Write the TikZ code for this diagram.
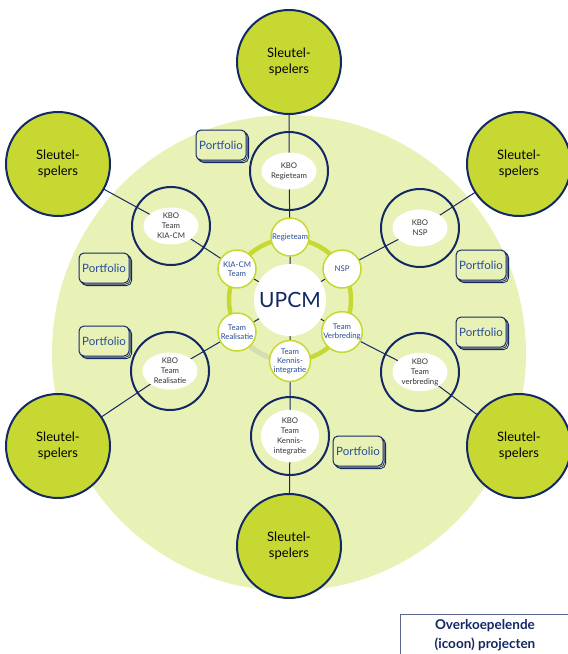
\documentclass[tikz,border=0pt]{standalone}
\usepackage{fontspec}
\setmainfont{Lato}
\usetikzlibrary{shapes.geometric,shadows}
\definecolor{navy}{RGB}{20,40,100}
\definecolor{lime}{RGB}{200,216,50}
\definecolor{bgg}{RGB}{233,242,182}
\definecolor{tblue}{RGB}{40,75,150}
\definecolor{pale}{RGB}{210,222,180}
\pgfdeclarelayer{back}
\pgfdeclarelayer{mid}
\pgfsetlayers{back,mid,main}
\tikzset{
  player/.style={circle, draw=navy, line width=2pt, fill=lime, minimum size=104pt, inner sep=0pt, align=center, font=\fontsize{13}{16}\selectfont},
  kbo/.style={circle, draw=navy, line width=2pt, minimum size=78pt, inner sep=0pt},
  kbotext/.style={ellipse, fill=white, minimum width=55pt, minimum height=37pt, inner sep=0pt, align=center, text=black!80, font=\fontsize{7.8}{10}\selectfont},
  team/.style={circle, draw=lime, line width=1.5pt, fill=white, minimum size=38pt, inner sep=0pt, align=center, text=tblue, font=\fontsize{7.8}{9}\selectfont},
  portf/.style={rectangle, rounded corners=5pt, draw=navy, line width=1pt, fill=bgg, minimum width=50pt, minimum height=30pt, inner sep=0pt, text=tblue, font=\fontsize{11.5}{13}\selectfont,
    double copy shadow={shadow xshift=1.3pt, shadow yshift=-1.3pt, draw=navy, fill=bgg, line width=0.8pt}},
  conn/.style={draw=navy, line width=1pt},
}
\begin{document}
\begin{tikzpicture}[x=1pt,y=-1pt]
\useasboundingbox (0,0) rectangle (568,654);
\begin{pgfonlayer}{back}
\fill[bgg] (289,353) ellipse [x radius=237, y radius=238];
\end{pgfonlayer}

% Sleutelspelers
\node[player] (P1) at (289,62) {Sleutel-\\spelers};
\node[player] (P2) at (58,164) {Sleutel-\\spelers};
\node[player] (P3) at (519,164) {Sleutel-\\spelers};
\node[player] (P4) at (58,446) {Sleutel-\\spelers};
\node[player] (P5) at (519,446) {Sleutel-\\spelers};
\node[player] (P6) at (289,546) {Sleutel-\\spelers};

% KBO circles
\node[kbo] (K1) at (289,171) {};
\node[kbotext] (K1t) at (289,171) {KBO\\Regieteam};
\node[kbo] (K2) at (171,226) {};
\node[kbotext] (K2t) at (171,226) {KBO\\Team\\KIA-CM};
\node[kbo] (K3) at (420,228) {};
\node[kbotext] (K3t) at (420,228) {KBO\\NSP};
\node[kbo] (K4) at (170,371) {};
\node[kbotext] (K4t) at (170,371) {KBO\\Team\\Realisatie};
\node[kbo] (K5) at (420,372) {};
\node[kbotext] (K5t) at (420,372) {KBO\\Team\\verbreding};
\node[kbo] (K6) at (290,436) {};
\node[kbotext, minimum width=58pt, minimum height=44pt] (K6t) at (290,436) {KBO\\Team\\Kennis-\\integratie};

% Centre
\node[circle, fill=white, minimum size=72pt, inner sep=0pt, text=navy, font=\fontsize{21}{24}\selectfont] (U) at (290,300) {UPCM};

\begin{pgfonlayer}{mid}
\draw[lime, line width=4.5pt] (U.center) circle [radius=61];
\draw[pale, line width=4.5pt] (290,361) arc [start angle=90, end angle=150, radius=61];
\end{pgfonlayer}

% Teams
\node[team] (T1) at (290,237) {Regieteam};
\node[team] (T2) at (237,269) {KIA-CM\\Team};
\node[team] (T3) at (342,269) {NSP};
\node[team] (T4) at (237,332) {Team\\Realisatie};
\node[team] (T5) at (342,332) {Team\\Verbreding};
\node[team] (T6) at (290,361) {Team\\Kennis-\\integratie};

% Connectors
\begin{pgfonlayer}{mid}
\draw[conn] (P1.center) -- (K1.center) -- (T1.center) -- (U.center);
\draw[conn] (P2.center) -- (K2.center) -- (T2.center) -- (U.center);
\draw[conn] (P3.center) -- (K3.center) -- (T3.center) -- (U.center);
\draw[conn] (P4.center) -- (K4.center) -- (T4.center) -- (U.center);
\draw[conn] (P5.center) -- (K5.center) -- (T5.center) -- (U.center);
\draw[conn] (P6.center) -- (K6.center) -- (T6.center) -- (U.center);
\end{pgfonlayer}

% Portfolio
\node[portf] (F1) at (221,145) {Portfolio};
\node[portf] (F2) at (104,268) {Portfolio};
\node[portf] (F3) at (104,341) {Portfolio};
\node[portf] (F4) at (481,265) {Portfolio};
\node[portf] (F5) at (481,332) {Portfolio};
\node[portf] (F6) at (358,451) {Portfolio};

% Legend box
\node[rectangle, draw=navy!70, line width=0.8pt, fill=white, anchor=north west, minimum width=180pt, minimum height=50pt, inner sep=0pt] (L) at (399.5,613.5) {};
\node[align=center, text=navy, font=\bfseries\fontsize{13.5}{19.5}\selectfont] (Lt) at (485,635) {Overkoepelende\\(icoon) projecten};
\end{tikzpicture}
\end{document}
